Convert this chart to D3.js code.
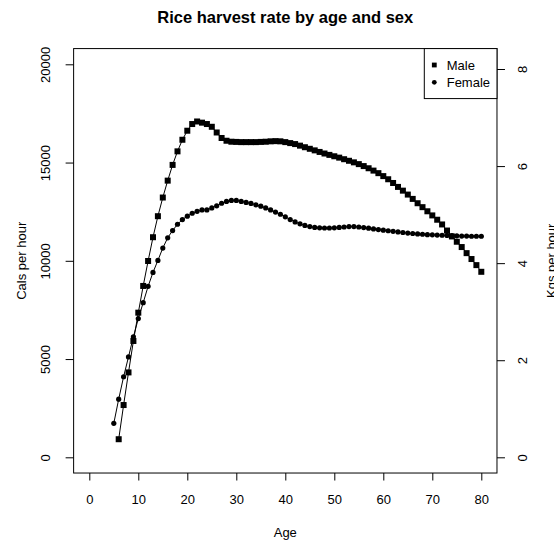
<!DOCTYPE html>
<html>
<head>
<meta charset="utf-8">
<script src="https://cdn.jsdelivr.net/npm/d3@7"></script>
<style>
  html, body { margin: 0; padding: 0; background: #fff; }
  svg { display: block; font-family: "Liberation Sans", Arial, sans-serif; }
</style>
</head>
<body>
<svg id="chart" width="554" height="546"></svg>
<script>
// ---- data ----
const maleAges = d3.range(6, 81);
const maleCals = [920, 2660, 4320, 5920, 7360, 8720, 9990, 11200, 12270, 13220,
  14080, 14880, 15570, 16160, 16620, 16960, 17090, 17030, 16960, 16820,
  16530, 16250, 16110, 16060, 16050, 16040, 16040, 16040, 16040, 16050,
  16060, 16080, 16090, 16080, 16040, 15990, 15940, 15860, 15780, 15700,
  15620, 15540, 15460, 15390, 15320, 15250, 15170, 15090, 15010, 14920,
  14820, 14710, 14590, 14460, 14310, 14150, 13960, 13760, 13570, 13370,
  13150, 12930, 12730, 12520, 12310, 12090, 11850, 11540, 11240, 10970,
  10700, 10390, 10090, 9780, 9440];
const femaleAges = d3.range(5, 81);
const femaleCals = [1730, 2960, 4100, 5110, 6130, 7060, 7870, 8700, 9410, 10020,
  10650, 11170, 11540, 11860, 12100, 12270, 12420, 12520, 12590, 12590,
  12690, 12800, 12930, 13020, 13070, 13070, 13020, 12970, 12920, 12850,
  12780, 12690, 12590, 12480, 12370, 12240, 12100, 11980, 11880, 11800,
  11740, 11700, 11680, 11670, 11670, 11680, 11700, 11720, 11740, 11740,
  11720, 11690, 11660, 11620, 11590, 11560, 11530, 11500, 11470, 11440,
  11410, 11390, 11370, 11350, 11330, 11320, 11310, 11300, 11290, 11280,
  11270, 11260, 11260, 11250, 11250, 11250];
const xTicks = [0, 10, 20, 30, 40, 50, 60, 70, 80];
const yTicks = [0, 5000, 10000, 15000, 20000];
const kgTicks = [0, 2, 4, 6, 8];
const seriesNames = ["Male", "Female"];
const title = "Rice harvest rate by age and sex";

// ---- scales ----
const x = d3.scaleLinear().domain([0, 80]).range([89.3, 481.3]);
const y = d3.scaleLinear().domain([0, 20000]).range([457.3, 64.3]);
const yKg = d3.scaleLinear().domain([0, 8.097]).range([457.3, 64.3]);

const svg = d3.select("#chart");
const FS = 13;

// plot box (R usr = data range extended by 4%)
const bx0 = x(-3.2), bx1 = x(83.2), by0 = y(20800), by1 = y(-800);

// title
svg.append("text").attr("x", (bx0 + bx1) / 2).attr("y", 22.5)
  .attr("text-anchor", "middle").attr("font-weight", "bold")
  .attr("font-size", 16.5).attr("fill", "#000").text(title);

// bottom axis
const gx = svg.append("g").attr("transform", `translate(0,${by1})`)
  .call(d3.axisBottom(x).tickValues(xTicks).tickSize(7.5).tickPadding(14).tickFormat(d3.format("d")));
gx.select(".domain").remove();
gx.selectAll("text").attr("font-size", FS).attr("font-family", "Liberation Sans, Arial, sans-serif").attr("fill", "#000");
gx.selectAll("line").attr("stroke", "#000");

// left axis
const gy = svg.append("g").attr("transform", `translate(${bx0},0)`)
  .call(d3.axisLeft(y).tickValues(yTicks).tickSize(8).tickFormat(d3.format("d")));
gy.select(".domain").remove();
gy.selectAll("line").attr("stroke", "#000");
gy.selectAll("text").attr("font-size", FS).attr("font-family", "Liberation Sans, Arial, sans-serif").attr("fill", "#000")
  .attr("x", null).attr("dy", null)
  .attr("text-anchor", "middle")
  .attr("transform", `translate(${50 - bx0},0) rotate(-90)`);

// right axis
const gr = svg.append("g").attr("transform", `translate(${bx1},0)`)
  .call(d3.axisRight(yKg).tickValues(kgTicks).tickSize(8).tickFormat(d3.format("d")));
gr.select(".domain").remove();
gr.selectAll("line").attr("stroke", "#000");
gr.selectAll("text").attr("font-size", FS).attr("font-family", "Liberation Sans, Arial, sans-serif").attr("fill", "#000")
  .attr("x", null).attr("dy", null)
  .attr("text-anchor", "middle")
  .attr("transform", `translate(${527 - bx1},0) rotate(-90)`);

// axis titles
svg.append("text").attr("x", (bx0 + bx1) / 2).attr("y", 536.5)
  .attr("text-anchor", "middle").attr("font-size", FS).attr("fill", "#000").text("Age");
svg.append("text").attr("transform", `translate(25.5,${(by0 + by1) / 2}) rotate(-90)`)
  .attr("text-anchor", "middle").attr("font-size", FS).attr("fill", "#000").text("Cals per hour");
svg.append("text").attr("transform", `translate(556,${(by0 + by1) / 2}) rotate(-90)`)
  .attr("text-anchor", "middle").attr("font-size", FS).attr("fill", "#000").text("Kgs per hour");

// box
svg.append("rect").attr("x", bx0).attr("y", by0).attr("width", bx1 - bx0).attr("height", by1 - by0)
  .attr("fill", "none").attr("stroke", "#000").attr("stroke-width", 1);

// series
const line = d3.line().x(d => x(d[0])).y(d => y(d[1]));
const male = maleAges.map((a, i) => [a, maleCals[i]]);
const female = femaleAges.map((a, i) => [a, femaleCals[i]]);

svg.append("path").datum(male).attr("d", line).attr("fill", "none").attr("stroke", "#000").attr("stroke-width", 1);
svg.append("path").datum(female).attr("d", line).attr("fill", "none").attr("stroke", "#000").attr("stroke-width", 1);

const SQ = 6;
svg.append("g").selectAll("rect").data(male).join("rect")
  .attr("x", d => x(d[0]) - SQ / 2).attr("y", d => y(d[1]) - SQ / 2)
  .attr("width", SQ).attr("height", SQ).attr("fill", "#000");
svg.append("g").selectAll("circle").data(female).join("circle")
  .attr("cx", d => x(d[0])).attr("cy", d => y(d[1])).attr("r", 2.6).attr("fill", "#000");

// legend
const lg = svg.append("g");
const lx0 = 424.3;
lg.append("rect").attr("x", lx0).attr("y", by0).attr("width", bx1 - lx0).attr("height", 50)
  .attr("fill", "#fff").attr("stroke", "#000").attr("stroke-width", 1);
const rows = [65, 82.3];
lg.append("rect").attr("x", 434.3 - 2.4).attr("y", rows[0] - 2.4).attr("width", 4.8).attr("height", 4.8).attr("fill", "#000");
lg.append("circle").attr("cx", 434.3).attr("cy", rows[1]).attr("r", 2.4).attr("fill", "#000");
seriesNames.forEach((n, i) => {
  lg.append("text").attr("x", 446.7).attr("y", rows[i] + 4.6).attr("font-size", FS).attr("fill", "#000").text(n);
});
</script>
</body>
</html>
